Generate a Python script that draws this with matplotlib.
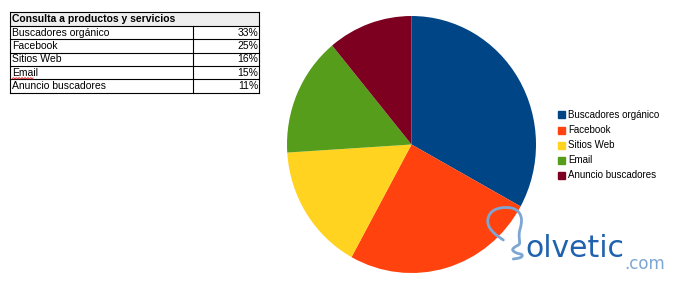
import matplotlib
matplotlib.use("Agg")
import matplotlib.pyplot as plt
from matplotlib.patches import Rectangle
import numpy as np

plt.rcParams['font.family'] = ['Liberation Sans', 'DejaVu Sans']

title = "Consulta a productos y servicios"
categories = ["Buscadores orgánico", "Facebook", "Sitios Web", "Email", "Anuncio buscadores"]
values = [33, 25, 16, 15, 11]
value_labels = ["33%", "25%", "16%", "15%", "11%"]
colors = ["#004586", "#ff420e", "#ffd320", "#579d1c", "#7e0021"]

W, H = 675, 288
fig = plt.figure(figsize=(W / 100, H / 100), dpi=100)

def fx(px):
    return np.asarray(px) / W

def fy(py):
    return 1 - np.asarray(py) / H

# ---- Pie ----
ax = fig.add_axes([fx(287), fy(273), fx(536) - fx(287), fy(16) - fy(273)])
wedges, _ = ax.pie(values, colors=colors, startangle=90, counterclock=False,
                   wedgeprops=dict(linewidth=0))
ax.set_aspect('auto')
ax.set_xlim(-1, 1)
ax.set_ylim(-1, 1)
ax.axis('off')

# ---- Legend ----
leg_y0 = 115
for i, (c, lab) in enumerate(zip(colors, categories)):
    y = leg_y0 + 15 * i
    fig.patches.append(Rectangle((fx(558), fy(y + 3.5)), fx(7), fy(0) - fy(7),
                                 transform=fig.transFigure, color=c, figure=fig))
    fig.text(fx(568), fy(y), lab, fontsize=7, va='center', ha='left', color='#000000')

# ---- Table ----
tl, tr, tdiv = 10, 259, 193
row_edges = [12, 26, 39.3, 52.7, 66, 79.3, 92.7]
fig.patches.append(Rectangle((fx(tl), fy(row_edges[1])), fx(tr - tl), fy(row_edges[0]) - fy(row_edges[1]),
                             transform=fig.transFigure, facecolor='#eeeeee', edgecolor='none', figure=fig))
lw = 0.8
fig.lines.append(plt.Line2D([fx(tl), fx(tr)], [fy(row_edges[0])] * 2, transform=fig.transFigure, color='black', lw=lw))
for ye in row_edges[1:]:
    fig.lines.append(plt.Line2D([fx(tl), fx(tr)], [fy(ye)] * 2, transform=fig.transFigure, color='black', lw=lw))
fig.lines.append(plt.Line2D([fx(tl)] * 2, [fy(row_edges[0]), fy(row_edges[-1])], transform=fig.transFigure, color='black', lw=lw))
fig.lines.append(plt.Line2D([fx(tr)] * 2, [fy(row_edges[0]), fy(row_edges[-1])], transform=fig.transFigure, color='black', lw=lw))
fig.lines.append(plt.Line2D([fx(tdiv)] * 2, [fy(row_edges[1]), fy(row_edges[-1])], transform=fig.transFigure, color='black', lw=lw))

fs_tab = 7.5
fig.text(fx(12), fy((row_edges[0] + row_edges[1]) / 2), title, fontsize=fs_tab, fontweight='bold',
         va='center', ha='left')
for i, (lab, vl) in enumerate(zip(categories, value_labels)):
    yc = (row_edges[i + 1] + row_edges[i + 2]) / 2
    fig.text(fx(12), fy(yc), lab, fontsize=fs_tab, va='center', ha='left')
    fig.text(fx(258), fy(yc), vl, fontsize=fs_tab, va='center', ha='right')

# spell-check squiggle under "Email"
xs = np.linspace(12, 33, 22)
ys = 78.3 + 0.8 * np.sin(xs * 2.2)
fig.lines.append(plt.Line2D(fx(xs), fy(ys), transform=fig.transFigure, color='#e03030', lw=0.7))

# ---- Watermark ----
ctrl = np.array([(70, 135), (45, 118), (25, 95), (22, 70), (35, 48), (60, 38), (90, 37),
                 (112, 45), (125, 65), (124, 90), (117, 112), (118, 135), (120, 148),
                 (105, 155), (95, 165), (110, 175), (128, 178), (125, 188), (100, 192)], float)
pts = ctrl
for _ in range(3):
    q = 0.75 * pts[:-1] + 0.25 * pts[1:]
    r = 0.25 * pts[:-1] + 0.75 * pts[1:]
    new = np.empty((2 * len(q), 2))
    new[0::2] = q
    new[1::2] = r
    pts = np.vstack([pts[:1], new, pts[-1:]])
px = 480 + pts[:, 0] / 3
py = 195 + pts[:, 1] / 3
fig.lines.append(plt.Line2D(fx(px), fy(py), transform=fig.transFigure, color='#7ea6d3',
                            lw=2.0, solid_capstyle='round'))
fig.text(fx(525), fy(257), "olvetic", fontsize=21.5, color='#1f62ad', ha='left', va='baseline',
         family=['DejaVu Sans'])
fig.text(fx(624), fy(269), ".com", fontsize=12, color='#7ea6d3', ha='left', va='baseline',
         family=['DejaVu Sans'])

fig.savefig("out.png", dpi=100)
